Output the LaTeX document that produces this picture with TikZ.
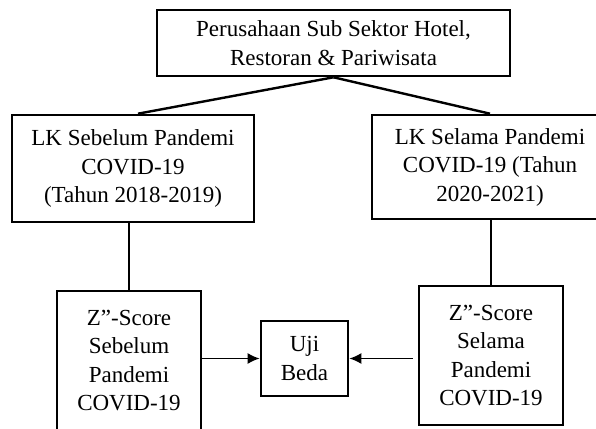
\documentclass[tikz,border=0pt]{standalone}
\usepackage{fontspec}
\setmainfont{Liberation Serif}
\usetikzlibrary{arrows.meta}
\begin{document}
\begin{tikzpicture}[x=1pt,y=1pt,
  box/.style={draw=black,line width=2.6pt,rectangle,inner sep=0pt,align=center,
    font=\fontsize{23}{28.5}\selectfont},
  conn/.style={draw=black,line width=2.4pt},
  arr/.style={draw=black,line width=1.8pt,-{Latex[length=12pt,width=11pt]}}]
\clip (0,0) rectangle (596,428);
\fill[white] (0,0) rectangle (596,428);
\node[box,minimum width=353pt,minimum height=66pt] (top) at (333.5,385) {Perusahaan Sub Sektor Hotel,\\Restoran \& Pariwisata};
\node[box,minimum width=242pt,minimum height=107pt] (lk1) at (133,259.5) {LK Sebelum Pandemi\\COVID-19\\(Tahun 2018-2019)};
\node[box,minimum width=236pt,minimum height=104pt] (lk2) at (490,261) {LK Selama Pandemi\\COVID-19 (Tahun\\2020-2021)};
\node[box,minimum width=144pt,minimum height=139pt] (z1) at (129,67.5) {Z”-Score\\Sebelum\\Pandemi\\COVID-19};
\node[box,minimum width=144pt,minimum height=139pt] (z2) at (491,72.5) {Z”-Score\\Selama\\Pandemi\\COVID-19};
\node[box,minimum width=87pt,minimum height=75pt] (uji) at (304.5,69.5) {Uji\\Beda};
\draw[conn] (top.south) -- ([xshift=5pt]lk1.north);
\draw[conn] (top.south) -- (lk2.north);
\draw[conn] (z1.north |- lk1.south) -- (z1.north);
\draw[conn] (z2.north |- lk2.south) -- (z2.north);
\draw[arr] (z1.east |- uji.west) -- (uji.west);
\draw[arr] ([xshift=-5pt]z2.west |- uji.east) -- (uji.east);
\end{tikzpicture}
\end{document}
